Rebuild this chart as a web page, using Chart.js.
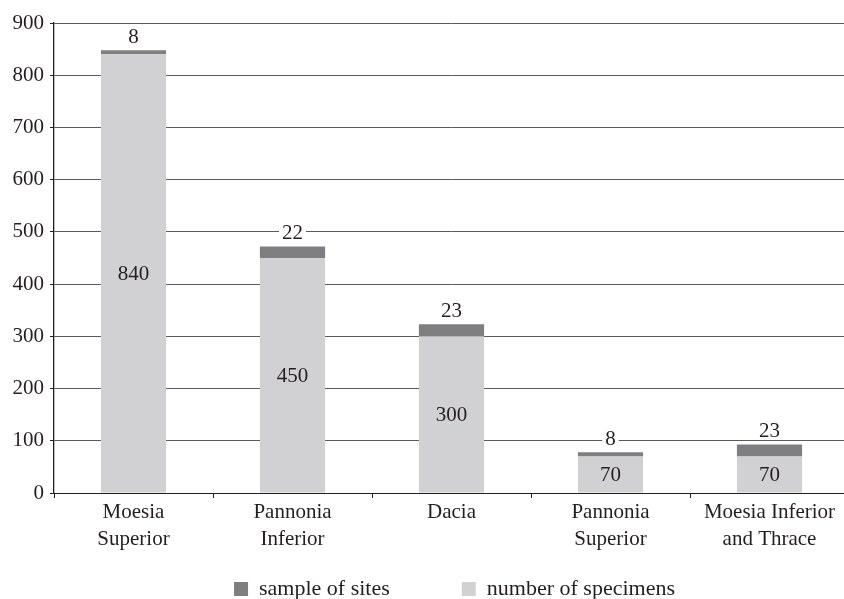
<!DOCTYPE html>
<html>
<head>
<meta charset="utf-8">
<script src="https://cdn.jsdelivr.net/npm/chart.js@4.4.1/dist/chart.umd.min.js"></script>
<style>
  html, body { margin: 0; padding: 0; background: #fff; overflow: hidden; }
  #wrap { width: 849px; height: 599px; position: relative; }
</style>
</head>
<body>
<div id="wrap"><canvas id="c"></canvas></div>
<script>
// Provinces along the x axis (two-line labels)
const categories = [
  ['Moesia', 'Superior'],
  ['Pannonia', 'Inferior'],
  ['Dacia'],
  ['Pannonia', 'Superior'],
  ['Moesia Inferior', 'and Thrace']
];
// Lower segment: number of specimens
const specimens = [840, 450, 300, 70, 70];
// Upper segment: sample of sites
const sites = [8, 22, 23, 8, 23];
// Y axis ticks
const yTicks = [0, 100, 200, 300, 400, 500, 600, 700, 800, 900];

const FONT = "'Liberation Serif', 'Times New Roman', serif";
const FSIZE = 21;
const INK = '#231f20';

// Writes the segment values onto the bars
const valueLabels = {
  id: 'valueLabels',
  afterDatasetsDraw(chart) {
    const ctx = chart.ctx;
    ctx.save();
    ctx.font = FSIZE + 'px ' + FONT;
    ctx.textAlign = 'center';
    ctx.textBaseline = 'middle';
    const lower = chart.getDatasetMeta(0);
    const upper = chart.getDatasetMeta(1);
    lower.data.forEach((bar, i) => {
      ctx.fillStyle = INK;
      ctx.fillText(String(specimens[i]), bar.x, (bar.y + bar.base) / 2 + 1);
    });
    upper.data.forEach((bar, i) => {
      const txt = String(sites[i]);
      const w = ctx.measureText(txt).width;
      const cy = bar.y - 14;
      ctx.fillStyle = '#ffffff';
      ctx.fillRect(bar.x - w / 2 - 3, cy - 8, w + 6, 15);
      ctx.fillStyle = INK;
      ctx.fillText(txt, bar.x, cy + 1);
    });
    ctx.restore();
  }
};

// Keeps the legend's wide item spacing while placing the row near the bottom edge
const legendPlacement = {
  id: 'legendPlacement',
  afterLayout(chart) {
    const lg = chart.legend;
    if (!lg) return;
    lg.top = 506;
    lg.bottom = chart.height;
    lg.left += 30;
    lg.right += 30;
  }
};

new Chart(document.getElementById('c'), {
  type: 'bar',
  data: {
    labels: categories,
    datasets: [
      {
        label: 'number of specimens',
        data: specimens,
        backgroundColor: '#d1d1d3',
        barPercentage: 0.82,
        categoryPercentage: 0.5
      },
      {
        label: 'sample of sites',
        data: sites,
        backgroundColor: '#7f7f81',
        barPercentage: 0.82,
        categoryPercentage: 0.5
      }
    ]
  },
  options: {
    responsive: true,
    maintainAspectRatio: false,
    animation: false,
    devicePixelRatio: 1,
    layout: { padding: { top: 23, right: 0, left: 0, bottom: 0 } },
    plugins: {
      tooltip: { enabled: false },
      legend: {
        position: 'bottom',
        reverse: true,
        maxHeight: 36,
        labels: {
          font: { family: FONT, size: 22 },
          color: INK,
          boxWidth: 14,
          boxHeight: 14,
          padding: 72
        }
      }
    },
    scales: {
      x: {
        stacked: true,
        grid: {
          offset: true,
          drawOnChartArea: false,
          color: INK,
          tickLength: 5
        },
        border: { color: INK, width: 1 },
        ticks: {
          font: { family: FONT, size: FSIZE, lineHeight: 1.3 },
          color: INK,
          padding: 1,
          maxRotation: 0
        },
        afterFit(scale) { scale.height = 70; }
      },
      y: {
        stacked: true,
        min: 0,
        max: 900,
        afterBuildTicks(scale) { scale.ticks = yTicks.map(v => ({ value: v })); },
        grid: {
          color: '#5a5a5a',
          tickColor: INK,
          lineWidth: 1,
          tickLength: 4
        },
        border: { color: INK, width: 1.3 },
        ticks: {
          font: { family: FONT, size: FSIZE },
          color: INK,
          padding: 6
        },
        afterFit(scale) { scale.width = 54; }
      }
    }
  },
  plugins: [valueLabels, legendPlacement]
});
</script>
</body>
</html>
